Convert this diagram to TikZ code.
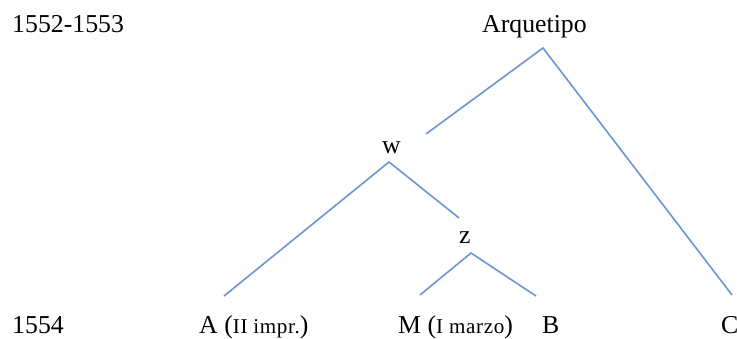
\documentclass[tikz,border=0pt]{standalone}
\usepackage{fontspec}
\setmainfont{Liberation Serif}
\usepackage{tikz}
\usetikzlibrary{positioning}
\definecolor{rama}{HTML}{6F96D3}

\tikzset{
  etiq/.style={anchor=base west, inner sep=0pt},
  linea/.style={draw=rama, line width=1.4pt}
}
\newcommand{\peq}[1]{{\fontsize{18}{21}\selectfont\addfontfeatures{LetterSpace=3}#1}}

\begin{document}
\begin{tikzpicture}[x=0.03cm, y=-0.03cm, font=\fontsize{22}{26}\selectfont]
  \useasboundingbox (0,0) rectangle (737,338);
  % Fechas
  \node[etiq] (f1) at (12,33) {1552-1553};
  \node[etiq] (f2) at (12,333) {1554};
  % Nodos del stemma
  \node[etiq] (arq) at (482,33) {Arquetipo};
  \node[etiq] (w) at (382,153) {w};
  \node[etiq] (z) at (459,243) {z};
  \node[etiq] (a) at (199,333) {A (\peq{II impr.})};
  \node[etiq] (m) at (398,333) {M (\peq{I marzo})};
  \node[etiq] (b) at (542,333) {B};
  \node[etiq] (c) at (721,333) {C};
  % Puntos de las ramas
  \coordinate (arq-v) at (543,48);
  \coordinate (arq-l) at (426,134);
  \coordinate (c-t) at (732,295);
  \coordinate (w-v) at (389,162);
  \coordinate (a-t) at (224,296);
  \coordinate (z-t) at (459,218);
  \coordinate (z-v) at (471,253);
  \coordinate (m-t) at (420,295);
  \coordinate (b-t) at (536,296);
  % Ramas
  \draw[linea] (arq-l) -- (arq-v) -- (c-t);
  \draw[linea] (a-t) -- (w-v) -- (z-t);
  \draw[linea] (m-t) -- (z-v) -- (b-t);
\end{tikzpicture}
\end{document}
